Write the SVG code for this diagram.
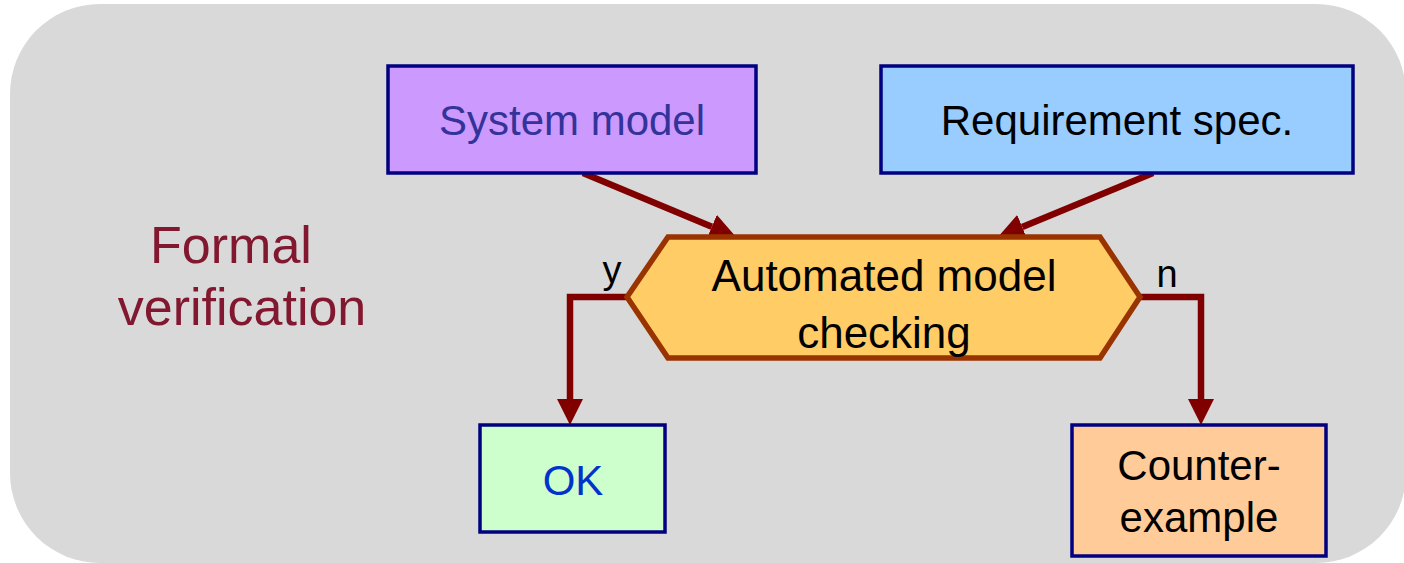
<svg xmlns="http://www.w3.org/2000/svg" width="1404" height="563" viewBox="0 0 1404 563">
  <style>
    .box { stroke: #000080; stroke-width: 3.5; }
    .t { font-family: "Liberation Sans", Arial, sans-serif; text-anchor: middle; }
    .conn { fill: none; stroke: #800000; stroke-width: 6.5; }
  </style>
  <defs>
    <marker id="ah" markerUnits="userSpaceOnUse" markerWidth="27" markerHeight="27" refX="0" refY="13" orient="auto" viewBox="0 0 27 26">
      <path d="M0,0 L26,13 L0,26 Z" fill="#800000"/>
    </marker>
  </defs>
  <rect id="background" x="10" y="4" width="1396" height="559" rx="90" ry="90" fill="#D9D9D9"/>
  <g id="label-formal">
    <text class="t" x="231" y="263" font-size="52" fill="#82182F">Formal</text>
    <text class="t" x="242" y="325" font-size="52" fill="#82182F">verification</text>
  </g>
  <g id="connectors">
    <line class="conn" x1="583" y1="173" x2="711.8" y2="226.8" stroke-width="7" marker-end="url(#ah)"/>
    <line class="conn" x1="1153" y1="173" x2="1022.2" y2="226.9" stroke-width="7" marker-end="url(#ah)"/>
    <path class="conn" d="M627,297 H570 V399" marker-end="url(#ah)"/>
    <path class="conn" d="M1141,297 H1201 V399" marker-end="url(#ah)"/>
    <text class="t" x="612" y="283" font-size="38" fill="#000000">y</text>
    <text class="t" x="1167" y="287" font-size="38" fill="#000000">n</text>
  </g>
  <g id="node-system-model">
    <rect class="box" x="388" y="66" width="368" height="107" fill="#CC99FF"/>
    <text class="t" x="572" y="135" font-size="42" fill="#333399">System model</text>
  </g>
  <g id="node-requirement-spec">
    <rect class="box" x="881" y="66" width="472" height="107" fill="#99CCFF"/>
    <text class="t" x="1117" y="135" font-size="42" fill="#000000">Requirement spec.</text>
  </g>
  <g id="node-model-checking">
    <polygon points="627,297 668,237 1100,237 1140,297 1100,358 668,358" fill="#FFCC66" stroke="#993300" stroke-width="5.5" stroke-linejoin="miter"/>
    <text class="t" x="884" y="291" font-size="44" fill="#000000">Automated model</text>
    <text class="t" x="884" y="348" font-size="44" fill="#000000">checking</text>
  </g>
  <g id="node-ok">
    <rect class="box" x="480" y="425" width="185" height="107" fill="#CCFFCC"/>
    <text class="t" x="573" y="495" font-size="42" fill="#0033CC">OK</text>
  </g>
  <g id="node-counterexample">
    <rect class="box" x="1072" y="425" width="254" height="131" fill="#FFCC99"/>
    <text class="t" x="1199" y="480" font-size="42" fill="#000000">Counter-</text>
    <text class="t" x="1199" y="532" font-size="42" fill="#000000">example</text>
  </g>
</svg>
